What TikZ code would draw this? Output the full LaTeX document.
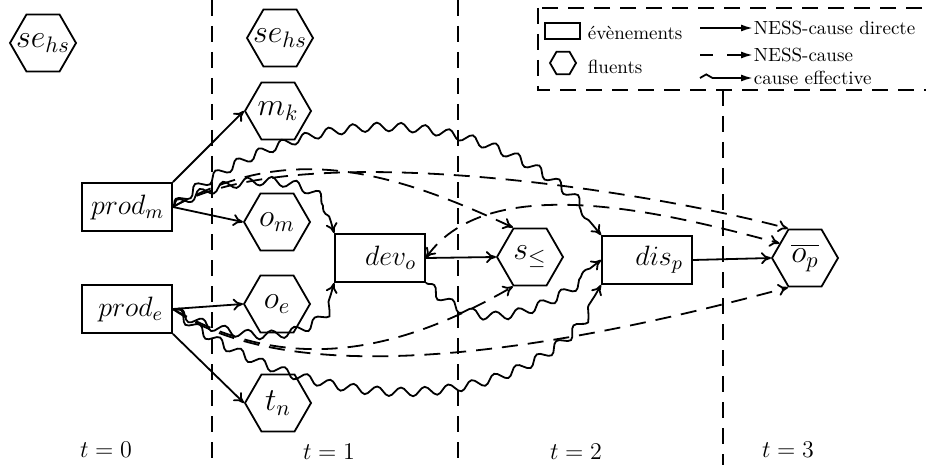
\RequirePackage{fix-cm}
\documentclass[tikz,border=0pt]{standalone}
\usepackage{fontspec}
\usetikzlibrary{shapes.geometric, arrows.meta, decorations.pathmorphing}
\begin{document}
\begin{tikzpicture}[x=0.5pt, y=0.5pt, line width=0.9pt,
  >={To[length=5pt,width=6pt]},
  hexnode/.style={draw, regular polygon, regular polygon sides=6, minimum size=33pt, inner sep=-4pt, font=\fontsize{16}{18}\selectfont},
  evt/.style={draw, rectangle, minimum width=45pt, minimum height=24pt, inner xsep=4.5pt, inner ysep=0pt, text width=36pt, align=right, font=\fontsize{14}{16}\selectfont},
  ness/.style={->, dash pattern=on 8pt off 5pt},
  direct/.style={->},
  eff/.style={->, decorate, decoration={snake, amplitude=2.2pt, segment length=12pt, post length=6pt}},
  sepline/.style={dash pattern=on 8pt off 5pt},
  tlab/.style={font=\fontsize{12}{14}\selectfont},
  legtext/.style={anchor=west, inner sep=0pt, font=\fontsize{9.5}{11}\selectfont},
  legarrow/.style={-{Latex[length=6pt,width=3.5pt]}},
]
\useasboundingbox (0,0) rectangle (926,-465);

% time separators and legend frame
\draw[sepline] (212,0) -- (212,-465);
\draw[sepline] (458,0) -- (458,-465);
\draw[sepline] (723,-90) -- (723,-465);
\draw[sepline] (538,-8) rectangle (960,-90);

% legend
\node[draw, minimum width=17.5pt, minimum height=8pt, inner sep=0pt] (legrect) at (562.5,-31) {};
\node[legtext] (legev) at (587,-33) {évènements};
\node[draw, regular polygon, regular polygon sides=6, minimum size=13pt, inner sep=0pt] (leghex) at (563,-63) {};
\node[legtext] (legfl) at (587,-67) {fluents};
\coordinate (la1) at (700,-28);
\coordinate (la2) at (700,-55);
\coordinate (la3) at (700,-78);
\node[legtext] (lt1) at (753,-28) {NESS-cause directe};
\node[legtext] (lt2) at (753,-55) {NESS-cause};
\node[legtext] (lt3) at (753,-78) {cause effective};
\draw[legarrow] (la1) -- (lt1.west);
\draw[legarrow, dash pattern=on 6.5pt off 7pt on 20pt off 1pt] (la2) -- (lt2.west);
\draw[legarrow, decorate, decoration={snake, amplitude=1.8pt, segment length=10pt, post length=16pt}] (la3) -- (lt3.west);

% nodes
\node[hexnode] (seL) at (43,-43) {$se_{hs}$};
\node[hexnode] (se1) at (280,-38) {$se_{hs}$};
\node[hexnode] (mk) at (278,-111) {$m_k$};
\node[hexnode] (om) at (277,-222) {$o_m$};
\node[hexnode] (oe) at (277,-304) {$o_e$};
\node[hexnode] (tn) at (278,-403) {$t_n$};
\node[evt] (prodm) at (127,-207) {$prod_m$};
\node[evt] (prode) at (127,-309) {$prod_e$};
\node[evt] (devo) at (380,-258) {$dev_o$};
\node[hexnode] (sle) at (530,-257) {$s_{\leq}$};
\node[evt] (disp) at (647,-260) {$dis_p$};
\node[hexnode] (op) at (805,-258) {$\overline{o_p}$};

% time labels
\node[tlab] (t0) at (106,-450) {$t=0$};
\node[tlab] (t1) at (329,-452) {$t=1$};
\node[tlab] (t2) at (576,-452) {$t=2$};
\node[tlab] (t3) at (788,-450) {$t=3$};

% NESS-cause directe
\draw[direct] (prodm.north east) -- (mk.west);
\draw[direct] (prodm.east) -- (om.west);
\draw[direct] (prode.east) -- (oe.west);
\draw[direct] (prode.south east) -- (tn.west);
\draw[direct] (devo.east) -- (sle.west);
\draw[direct] (disp.east) -- (op.west);

% NESS-cause
\draw[ness] (prodm.east) to[out=30, in=165, looseness=0.6] (op.120);
\draw[ness] (prodm.east) to[out=30, in=155] (sle.120);
\draw[ness, <->] (devo.east) to[out=55, in=165, looseness=0.8] (op.150);
\draw[ness] (prode.east) to[out=-30, in=-150] (sle.240);
\draw[ness] (prode.east) to[out=-35, in=-165, looseness=0.7] (op.240);

% cause effective
\draw[eff] (prodm.east) to[out=40, in=128] (disp.north west);
\draw[eff] (prodm.east) to[out=30, in=100] (devo.north west);
\draw[eff] (prode.east) to[out=-30, in=-100] (devo.south west);
\draw[eff] (prode.east) to[out=-40, in=-118, looseness=0.95] (disp.south west);
\draw[eff] (devo.south east) to[out=-45, in=-142, looseness=1.1] (disp.west);
\end{tikzpicture}
\end{document}
